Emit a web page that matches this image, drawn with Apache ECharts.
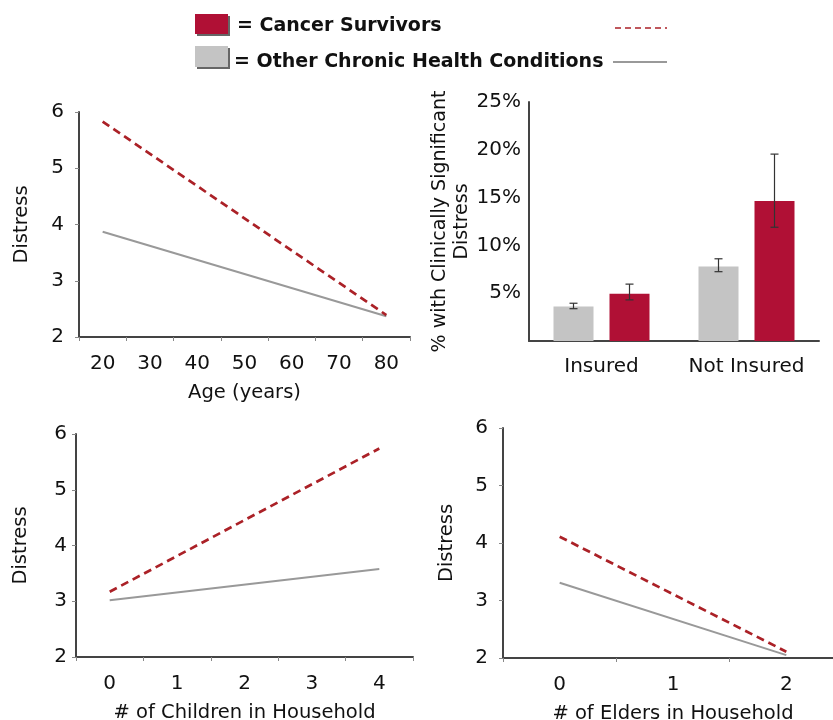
<!DOCTYPE html>
<html>
<head>
<meta charset="utf-8">
<script src="https://cdn.jsdelivr.net/npm/echarts@6/dist/echarts.min.js"></script>
<style>html,body{margin:0;padding:0;background:#fff}#c{width:833px;height:720px}</style>
</head>
<body>
<div id="c"></div>
<script>
// ---- data ----
const ageCategories = ['20', '30', '40', '50', '60', '70', '80'];
const ageCancer = [5.83, null, null, null, null, null, 2.39];
const ageOther = [3.87, null, null, null, null, null, 2.37];

const childCategories = ['0', '1', '2', '3', '4'];
const childCancer = [3.17, null, null, null, 5.74];
const childOther = [3.02, null, null, null, 3.58];

const elderCategories = ['0', '1', '2'];
const elderCancer = [4.11, null, 2.11];
const elderOther = [3.31, null, 2.05];

const insuranceCategories = ['Insured', 'Not Insured'];
const otherPct = [3.6, 7.8];
const otherLow = [3.38, 7.25];
const otherHigh = [3.95, 8.6];
const cancerPct = [4.95, 14.65];
const cancerLow = [4.3, 11.9];
const cancerHigh = [5.95, 19.55];

const legendCancer = '= Cancer Survivors';
const legendOther = '= Other Chronic Health Conditions';

// ---- styles ----
const FONT = 'DejaVu Sans';
const RED = '#b01035';
const DASH_RED = '#ab2127';
const GRAY_BAR = '#c4c4c4';
const GRAY_LINE = '#999999';
const AXIS = '#444';
const TXT = '#111';
const FS = 20;
const BAR_W = 40, BAR_GAP = 16;

function distressY(idx, margin, gap) {
  return {
    type: 'value', gridIndex: idx, min: 2, max: 6, interval: 1,
    name: 'Distress', nameLocation: 'middle', nameGap: gap,
    nameTextStyle: { fontFamily: FONT, fontSize: 19.5, color: TXT },
    axisLine: { show: true, lineStyle: { color: AXIS, width: 2 } },
    axisTick: { show: true, length: 4, lineStyle: { color: '#888' } },
    axisLabel: { margin: margin, fontFamily: FONT, fontSize: FS, color: TXT },
    splitLine: { show: false }
  };
}
function catX(idx, cats, name) {
  return {
    type: 'category', gridIndex: idx, data: cats, boundaryGap: true,
    name: name, nameLocation: 'middle', nameGap: 46,
    nameTextStyle: { fontFamily: FONT, fontSize: 19.5, color: TXT },
    axisLine: { show: true, lineStyle: { color: AXIS, width: 2 } },
    axisTick: { show: true, length: 4, lineStyle: { color: '#888' } },
    axisLabel: { margin: 17, interval: 0, fontFamily: FONT, fontSize: FS, color: TXT },
    splitLine: { show: false }
  };
}
function lineS(idx, data, dashed) {
  return {
    type: 'line', xAxisIndex: idx, yAxisIndex: idx, data: data, connectNulls: true,
    showSymbol: false, symbol: 'none', silent: true,
    lineStyle: dashed ? { color: DASH_RED, width: 2.7, type: [8, 5] }
                      : { color: GRAY_LINE, width: 2, type: 'solid' },
    z: dashed ? 3 : 2
  };
}
function errS(low, high, offset) {
  return {
    type: 'custom', xAxisIndex: 1, yAxisIndex: 1, silent: true, z: 10,
    data: low.map((l, i) => [i, l, high[i]]),
    encode: { x: 0, y: [1, 2] },
    renderItem: function (params, api) {
      const lo = api.coord([api.value(0), api.value(1)]);
      const hi = api.coord([api.value(0), api.value(2)]);
      const x = lo[0] + offset, c = 4;
      const st = { stroke: '#333', lineWidth: 1.2 };
      return { type: 'group', children: [
        { type: 'line', shape: { x1: x, y1: hi[1], x2: x, y2: lo[1] }, style: st },
        { type: 'line', shape: { x1: x - c, y1: hi[1], x2: x + c, y2: hi[1] }, style: st },
        { type: 'line', shape: { x1: x - c, y1: lo[1], x2: x + c, y2: lo[1] }, style: st }
      ] };
    }
  };
}

const chart = echarts.init(document.getElementById('c'), null, { renderer: 'canvas' });
const off = (BAR_W + BAR_GAP) / 2;
const G = { outerBoundsMode: 'none', containLabel: false };
chart.setOption({
  backgroundColor: '#fff',
  animation: false,
  grid: [
    Object.assign({ left: 79, top: 112, width: 331, height: 225 }, G),
    Object.assign({ left: 529, top: 102, width: 290, height: 239 }, G),
    Object.assign({ left: 76, top: 434, width: 337, height: 223 }, G),
    Object.assign({ left: 503, top: 428, width: 340, height: 230 }, G)
  ],
  xAxis: [
    catX(0, ageCategories, 'Age (years)'),
    {
      type: 'category', gridIndex: 1, data: insuranceCategories,
      axisLine: { show: true, lineStyle: { color: AXIS, width: 2 } },
      axisTick: { show: false },
      axisLabel: { margin: 16, interval: 0, hideOverlap: false, fontFamily: FONT, fontSize: FS, color: TXT },
      splitLine: { show: false }
    },
    catX(2, childCategories, '# of Children in Household'),
    catX(3, elderCategories, '# of Elders in Household')
  ],
  yAxis: [
    distressY(0, 15, 47),
    {
      type: 'value', gridIndex: 1, min: 0, max: 25, interval: 5,
      name: '% with Clinically Significant\nDistress', nameLocation: 'middle', nameGap: 56,
      nameTextStyle: { fontFamily: FONT, fontSize: 19, color: TXT, lineHeight: 22 },
      axisLine: { show: true, lineStyle: { color: AXIS, width: 2 } },
      axisTick: { show: false },
      axisLabel: { margin: 8, fontFamily: FONT, fontSize: FS, color: TXT,
        formatter: v => (v === 0 ? '' : v + '%') },
      splitLine: { show: false }
    },
    distressY(2, 9, 45),
    distressY(3, 15, 46)
  ],
  series: [
    lineS(0, ageOther, false), lineS(0, ageCancer, true),
    {
      type: 'bar', xAxisIndex: 1, yAxisIndex: 1, data: otherPct, barWidth: BAR_W,
      barGap: (BAR_GAP / BAR_W * 100) + '%', itemStyle: { color: GRAY_BAR }, silent: true
    },
    {
      type: 'bar', xAxisIndex: 1, yAxisIndex: 1, data: cancerPct, barWidth: BAR_W,
      barGap: (BAR_GAP / BAR_W * 100) + '%', itemStyle: { color: RED }, silent: true
    },
    errS(otherLow, otherHigh, -off), errS(cancerLow, cancerHigh, off),
    lineS(2, childOther, false), lineS(2, childCancer, true),
    lineS(3, elderOther, false), lineS(3, elderCancer, true)
  ],
  graphic: [
    { type: 'rect', shape: { x: 197, y: 16, width: 33, height: 20 }, style: { fill: '#666' } },
    { type: 'rect', shape: { x: 195, y: 14, width: 33, height: 20 }, style: { fill: RED } },
    { type: 'text', x: 237, y: 26, style: { text: legendCancer, fontFamily: FONT, fontWeight: 'bold',
      fontSize: 19, fill: TXT, textVerticalAlign: 'middle', verticalAlign: 'middle' } },
    { type: 'line', shape: { x1: 615, y1: 28, x2: 667, y2: 28 },
      style: { stroke: DASH_RED, lineWidth: 1.5, lineDash: [6, 4] } },
    { type: 'rect', shape: { x: 197, y: 48, width: 33, height: 21 }, style: { fill: '#666' } },
    { type: 'rect', shape: { x: 195, y: 46, width: 33, height: 21 }, style: { fill: GRAY_BAR } },
    { type: 'text', x: 234, y: 62, style: { text: legendOther, fontFamily: FONT, fontWeight: 'bold',
      fontSize: 19, fill: TXT, textVerticalAlign: 'middle', verticalAlign: 'middle' } },
    { type: 'line', shape: { x1: 613, y1: 62, x2: 667, y2: 62 },
      style: { stroke: GRAY_LINE, lineWidth: 2 } }
  ]
});
</script>
</body>
</html>
